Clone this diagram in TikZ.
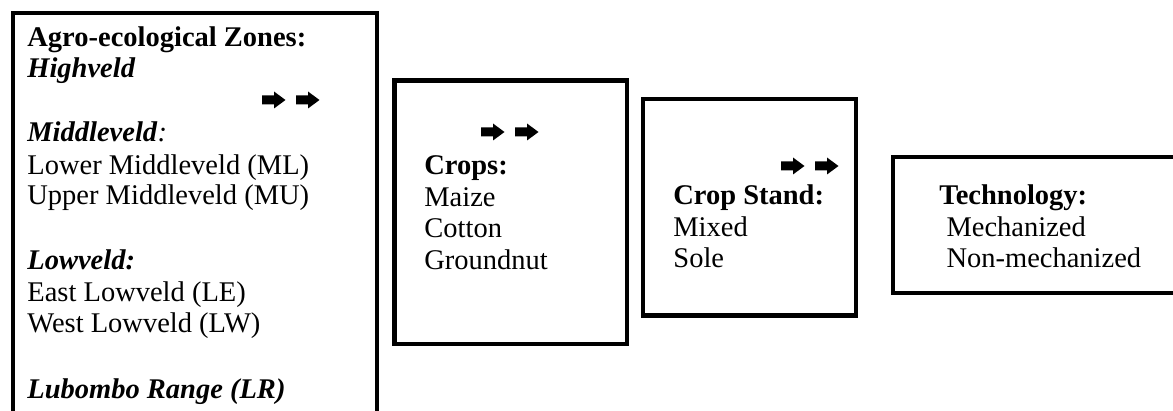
\documentclass[tikz,border=0pt]{standalone}
\usepackage{fontspec}
\setmainfont{Liberation Serif}
\usepackage{tikz}

\tikzset{
  zonebox/.style={line width=2.25pt, line join=miter},
  txt/.style={anchor=base west, inner sep=0pt, font=\fontsize{14.25}{15.9}\selectfont},
  wdarrow/.pic={
    \fill (0,-4.5) -- (12,-4.5) -- (12,-8.5) -- (23.5,0) -- (12,8.5) -- (12,4.5) -- (0,4.5) -- cycle;
  }
}

\begin{document}
\begin{tikzpicture}[x=0.5pt, y=-0.5pt]
	\useasboundingbox (0,0) rectangle (1173,411);
	\clip (0,0) rectangle (1173,411);
	% boxes
	\draw[zonebox] (13,13) rectangle (377,440);
	\draw[zonebox] (394.5,80.5) rectangle (627,344);
	\draw[zonebox] (643,99) rectangle (856,315.5);
	\draw[zonebox] (893,157) rectangle (1200,293);
	% zones
	\node[txt] (zhead) at (27,47) {\textbf{Agro-ecological Zones:}};
	\node[txt] (zhigh) at (27,78) {\textbf{\textit{Highveld}}};
	\node[txt] (zmid) at (27,142) {\textbf{\textit{Middleveld}}\textit{:}};
	\node[txt] (zml) at (27,175) {Lower Middleveld (ML)};
	\node[txt] (zmu) at (27,205) {Upper Middleveld (MU)};
	\node[txt] (zlow) at (27,270) {\textbf{\textit{Lowveld:}}};
	\node[txt] (zle) at (27,302) {East Lowveld (LE)};
	\node[txt] (zlw) at (27,333) {West Lowveld (LW)};
	\node[txt] (zlr) at (27,399) {\textbf{\textit{Lubombo Range (LR)}}};
	% crops
	\node[txt] (chead) at (424,175) {\textbf{Crops:}};
	\node[txt] (cmaize) at (424,207) {Maize};
	\node[txt] (ccotton) at (424,238) {Cotton};
	\node[txt] (cground) at (424,270) {Groundnut};
	% crop stand
	\node[txt] (shead) at (673,205) {\textbf{Crop Stand:}};
	\node[txt] (smixed) at (673,237) {Mixed};
	\node[txt] (ssole) at (673,268) {Sole};
	% technology
	\node[txt] (thead) at (939,205) {\textbf{Technology:}};
	\node[txt] (tmech) at (939,237) {\ Mechanized};
	\node[txt] (tnon) at (939,268) {\ Non-mechanized};
	% arrows
	\pic at (262,100) {wdarrow};
	\pic at (296,100) {wdarrow};
	\pic at (481,132) {wdarrow};
	\pic at (515,132) {wdarrow};
	\pic at (781,166) {wdarrow};
	\pic at (815,166) {wdarrow};
\end{tikzpicture}
\end{document}
